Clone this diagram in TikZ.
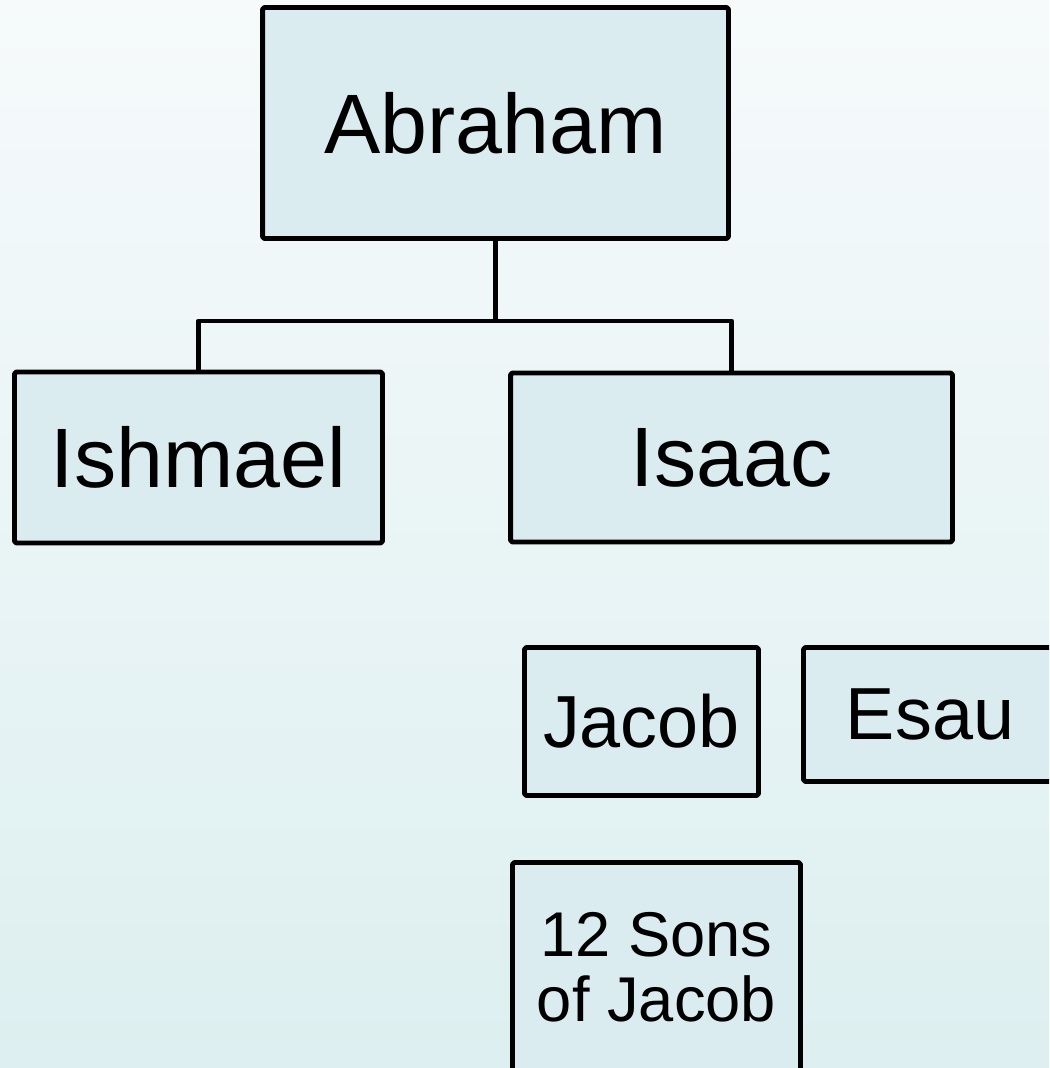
\documentclass[tikz,border=0pt]{standalone}
\usepackage{fontspec}
\setmainfont{Liberation Sans}
\definecolor{bgtop}{RGB}{246,250,251}
\definecolor{bgbot}{RGB}{221,239,240}
\definecolor{boxfill}{RGB}{218,236,239}
\begin{document}
\begin{tikzpicture}[x=0.02cm,y=-0.02cm,line width=2.8pt,line join=round]
	\def \rowone{123}
	\def \rowtwo{457.5}
	\def \forkht{321}
	\tikzstyle{f-node}=[rectangle,draw=black,fill=boxfill,rounded corners=1pt,inner sep=0pt,align=center]
	\tikzstyle{big}=[font=\fontsize{48}{55}\selectfont]
	\tikzstyle{mid}=[font=\fontsize{42}{48}\selectfont]
	\tikzstyle{small}=[font=\fontsize{36}{37}\selectfont]
	% background
	\clip (0,0) rectangle (1049,1068);
	\shade[top color=bgtop,bottom color=bgbot] (0,0) rectangle (1049,1068);

	% first generations
	\node[f-node,big,minimum width=9.32cm,minimum height=4.62cm] 	(abraham)	at (495.5,\rowone)	{Abraham};
	\node[f-node,big,minimum width=7.36cm,minimum height=3.42cm] 	(ishmael)	at (198.5,\rowtwo)	{Ishmael};
	\node[f-node,big,minimum width=8.84cm,minimum height=3.38cm] 	(isaac)		at (731.5,\rowtwo)	{Isaac};

	% loose boxes
	\node[f-node,mid,minimum width=4.68cm,minimum height=2.96cm] 	(jacob)		at (641.5,721.5)	{Jacob};
	\node[f-node,mid,minimum width=5.06cm,minimum height=2.68cm] 	(esau)		at (930,714.5)		{Esau};
	\node[f-node,small,minimum width=5.76cm,minimum height=4.2cm] 	(sons)		at (656.5,967.5)	{12 Sons\\of Jacob};

	% tree lines
	\coordinate (fork) at (495.5,\forkht);
	\draw (abraham.south) -- (fork) -| (ishmael.north);
	\draw (fork) -| (isaac.north);
\end{tikzpicture}
\end{document}
